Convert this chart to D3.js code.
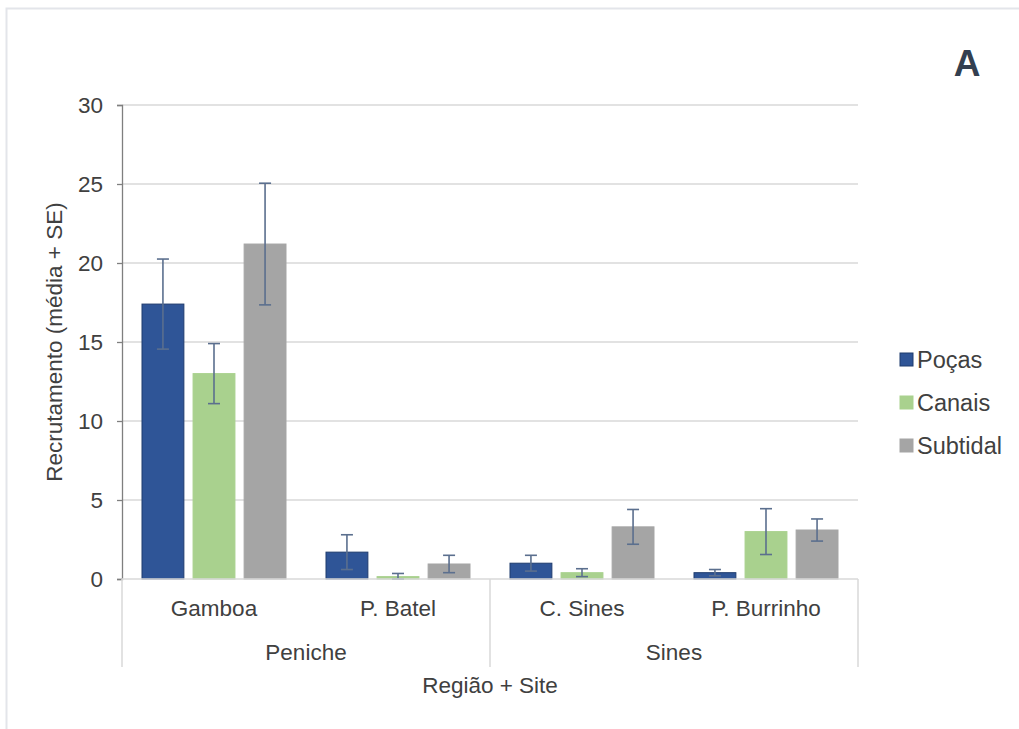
<!DOCTYPE html>
<html>
<head>
<meta charset="utf-8">
<script src="https://cdn.jsdelivr.net/npm/d3@7"></script>
<style>
  html, body { margin: 0; padding: 0; background: #ffffff; }
  svg { display: block; font-family: "Liberation Sans", Arial, sans-serif; }
</style>
</head>
<body>
<svg id="chart" width="1019" height="729"></svg>
<script>
// Sites and the region each one belongs to
const sites = ["Gamboa", "P. Batel", "C. Sines", "P. Burrinho"];
const regions = [
  { name: "Peniche", sites: ["Gamboa", "P. Batel"] },
  { name: "Sines", sites: ["C. Sines", "P. Burrinho"] }
];
const habitats = ["Poças", "Canais", "Subtidal"];

// Mean recruitment per habitat, in site order
const pocasMean    = [17.4, 1.7, 1.0, 0.4];
const canaisMean   = [13.0, 0.15, 0.4, 3.0];
const subtidalMean = [21.2, 0.95, 3.3, 3.1];

// Standard errors per habitat, in site order
const pocasSE    = [2.85, 1.1, 0.5, 0.2];
const canaisSE   = [1.9, 0.2, 0.25, 1.45];
const subtidalSE = [3.85, 0.55, 1.1, 0.7];

const yTicks = [0, 5, 10, 15, 20, 25, 30];

const means = [pocasMean, canaisMean, subtidalMean];
const errors = [pocasSE, canaisSE, subtidalSE];
const fills = ["#2f5597", "#a9d18e", "#a5a5a5"];
const strokes = ["#1f3c6e", "#a9d18e", "#a5a5a5"];

const svg = d3.select("#chart");
const textCol = "#404040";
const labelSize = "22.5px";

// outer frame (top and left edges)
svg.append("path")
  .attr("d", "M6.5,729 V8.5 H1019")
  .attr("fill", "none").attr("stroke", "#e3e5ea").attr("stroke-width", 2);

const plotLeft = 122, plotRight = 858, plotTop = 105, plotBottom = 579;

const y = d3.scaleLinear().domain([0, 30]).range([plotBottom, plotTop]);
const x = d3.scaleBand().domain(sites).range([plotLeft, plotRight]).paddingInner(0).paddingOuter(0);
const xInner = d3.scaleBand().domain(habitats)
  .range([20, x.bandwidth() - 20]).paddingInner(0.18);

// gridlines
svg.append("g").selectAll("line").data(yTicks.filter(d => d > 0)).join("line")
  .attr("x1", plotLeft).attr("x2", plotRight)
  .attr("y1", d => y(d)).attr("y2", d => y(d))
  .attr("stroke", "#d9d9d9").attr("stroke-width", 1.3);

// y axis
const yAxis = svg.append("g").attr("transform", `translate(${plotLeft},0)`)
  .call(d3.axisLeft(y).tickValues(yTicks).tickSize(5).tickPadding(14));
yAxis.select(".domain").attr("stroke", "#7f7f7f").attr("stroke-width", 1.3);
yAxis.selectAll(".tick line").attr("stroke", "#7f7f7f").attr("stroke-width", 1.3);
yAxis.selectAll(".tick text").attr("fill", textCol)
  .style("font-size", labelSize).style("font-family", "Liberation Sans, Arial, sans-serif");

// bars
habitats.forEach((h, i) => {
  const g = svg.append("g");
  g.selectAll("rect").data(sites).join("rect")
    .attr("x", s => x(s) + xInner(h))
    .attr("width", xInner.bandwidth())
    .attr("y", (s, j) => y(means[i][j]))
    .attr("height", (s, j) => y(0) - y(means[i][j]))
    .attr("fill", fills[i])
    .attr("stroke", strokes[i]).attr("stroke-width", 1);
});

// error bars (mean ± SE)
habitats.forEach((h, i) => {
  const g = svg.append("g").attr("stroke", "#5b6f8e").attr("stroke-width", 1.6);
  sites.forEach((s, j) => {
    const cx = x(s) + xInner(h) + xInner.bandwidth() / 2;
    const lo = Math.max(0, means[i][j] - errors[i][j]);
    const hi = means[i][j] + errors[i][j];
    g.append("line").attr("x1", cx).attr("x2", cx).attr("y1", y(lo)).attr("y2", y(hi));
    g.append("line").attr("x1", cx - 6).attr("x2", cx + 6).attr("y1", y(hi)).attr("y2", y(hi));
    g.append("line").attr("x1", cx - 6).attr("x2", cx + 6).attr("y1", y(lo)).attr("y2", y(lo));
  });
});

// baseline
svg.append("line").attr("x1", plotLeft).attr("x2", plotRight)
  .attr("y1", plotBottom).attr("y2", plotBottom)
  .attr("stroke", "#d9d9d9").attr("stroke-width", 1.5);

// region separators
const sepXs = [plotLeft, x(regions[1].sites[0]), plotRight];
svg.append("g").selectAll("line").data(sepXs).join("line")
  .attr("x1", d => d).attr("x2", d => d)
  .attr("y1", plotBottom).attr("y2", 667)
  .attr("stroke", "#d9d9d9").attr("stroke-width", 1.5);

// site labels
svg.append("g").selectAll("text").data(sites).join("text")
  .attr("x", s => x(s) + x.bandwidth() / 2).attr("y", 616)
  .attr("text-anchor", "middle").attr("fill", textCol)
  .style("font-size", labelSize).text(s => s);

// region labels
svg.append("g").selectAll("text").data(regions).join("text")
  .attr("x", r => (x(r.sites[0]) + x(r.sites[r.sites.length - 1]) + x.bandwidth()) / 2)
  .attr("y", 660)
  .attr("text-anchor", "middle").attr("fill", textCol)
  .style("font-size", labelSize).text(r => r.name);

// axis titles
svg.append("text").attr("x", (plotLeft + plotRight) / 2).attr("y", 693)
  .attr("text-anchor", "middle").attr("fill", textCol)
  .style("font-size", labelSize).text("Região + Site");

svg.append("text")
  .attr("transform", `translate(62,${(plotTop + plotBottom) / 2}) rotate(-90)`)
  .attr("text-anchor", "middle").attr("fill", textCol)
  .style("font-size", labelSize).text("Recrutamento (média + SE)");

// legend
const legend = svg.append("g").attr("transform", "translate(900,360)");
habitats.forEach((h, i) => {
  const row = legend.append("g").attr("transform", `translate(0,${i * 43})`);
  row.append("rect").attr("x", 0).attr("y", -7).attr("width", 13).attr("height", 13)
    .attr("fill", fills[i]).attr("stroke", strokes[i]);
  row.append("text").attr("x", 17).attr("y", 8).attr("fill", textCol)
    .style("font-size", "23.5px").text(h);
});

// panel letter
svg.append("text").attr("x", 967).attr("y", 76).attr("text-anchor", "middle")
  .attr("fill", "#333f50").style("font-size", "37px").style("font-weight", "bold").text("A");
</script>
</body>
</html>
